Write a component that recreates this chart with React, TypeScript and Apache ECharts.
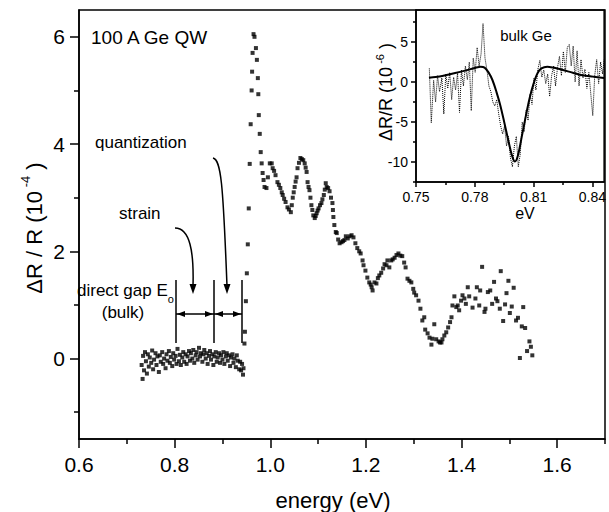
import React, { useEffect, useRef } from "react";
import * as echarts from "echarts";

const FONT = "'Liberation Sans', Arial, sans-serif";

// Main chart tick values
const mainXMajor = [0.6, 0.8, 1.0, 1.2, 1.4, 1.6];
const mainXMinor = [0.7, 0.9, 1.1, 1.3, 1.5, 1.7];
const mainYMajor = [0, 2, 4, 6];
const mainYMinor = [-1, 1, 3, 5];
// Inset tick values
const insetXMajor = [0.75, 0.78, 0.81, 0.84];
const insetXMinor = [0.765, 0.795, 0.825];
const insetYMajor = [-10, -5, 0, 5];
const insetYMinor = [-12.5, -7.5, -2.5, 2.5, 7.5];

// Main QW spectrum: flat region below gap
const flatRegion: [number, number][] = [
  [0.731, -0.12], [0.733, -0.38], [0.734, 0.05], [0.736, -0.22], [0.738, 0.12], [0.740, -0.05],
  [0.742, -0.28], [0.744, 0.08], [0.746, -0.15], [0.748, 0.02], [0.751, -0.08], [0.753, 0.15],
  [0.755, -0.2], [0.757, -0.02], [0.760, 0.1], [0.762, -0.12], [0.764, 0.04], [0.767, -0.25],
  [0.769, 0.06], [0.771, -0.06], [0.774, 0.12], [0.776, -0.1], [0.778, 0.0], [0.781, -0.18],
  [0.783, 0.08], [0.785, -0.04], [0.788, 0.14], [0.790, -0.08], [0.792, 0.03], [0.795, -0.14],
  [0.797, 0.1], [0.799, -0.02], [0.802, 0.05], [0.804, -0.1], [0.806, 0.18], [0.809, -0.05],
  [0.811, 0.07], [0.813, -0.12], [0.816, 0.02], [0.818, 0.12], [0.820, -0.06], [0.823, 0.08],
  [0.825, -0.1], [0.827, 0.04], [0.830, 0.14], [0.832, -0.04], [0.834, 0.1], [0.837, 0.0],
  [0.839, 0.16], [0.841, -0.08], [0.844, 0.06], [0.846, 0.12], [0.848, -0.02], [0.851, 0.2],
  [0.853, 0.04], [0.855, 0.1], [0.858, -0.06], [0.860, 0.08], [0.862, 0.16], [0.865, 0.0],
  [0.867, 0.1], [0.869, -0.1], [0.872, 0.05], [0.874, 0.14], [0.876, -0.02], [0.879, 0.08],
  [0.881, -0.12], [0.883, 0.04], [0.886, 0.12], [0.888, -0.06], [0.890, 0.02], [0.893, 0.1],
  [0.895, -0.08], [0.897, 0.06], [0.900, -0.02], [0.902, 0.12], [0.904, -0.1], [0.907, 0.04],
  [0.909, 0.1], [0.911, -0.04], [0.914, 0.06], [0.916, -0.14], [0.918, 0.02], [0.921, 0.08],
  [0.923, -0.08], [0.925, 0.0], [0.928, -0.16], [0.930, 0.06], [0.932, -0.04], [0.935, -0.2],
  [0.937, -0.06], [0.939, -0.22], [0.941, -0.1], [0.943, -0.3], [0.944, -0.18],
];

// Main QW spectrum: above gap
const aboveGap: [number, number][] = [
  [0.946, 0.28], [0.947, 0.5], [0.949, 1.07], [0.951, 1.59], [0.953, 2.13], [0.955, 2.8],
  [0.957, 3.63], [0.959, 4.37], [0.961, 5.0], [0.962, 5.35], [0.963, 5.7], [0.965, 6.05],
  [0.967, 6.0], [0.970, 5.79], [0.972, 5.57], [0.974, 5.23], [0.975, 4.93], [0.976, 4.54],
  [0.978, 4.19], [0.980, 3.85], [0.982, 3.64], [0.984, 3.46], [0.986, 3.33], [0.988, 3.2],
  [0.992, 3.18], [0.995, 3.38], [0.999, 3.64], [1.003, 3.64], [1.005, 3.55], [1.008, 3.5],
  [1.011, 3.42], [1.015, 3.29], [1.018, 3.24], [1.021, 3.18], [1.024, 3.1], [1.026, 3.05],
  [1.029, 2.98], [1.032, 2.92], [1.036, 2.82], [1.039, 2.78], [1.043, 2.73], [1.045, 2.86],
  [1.047, 3.0], [1.049, 3.1], [1.051, 3.2], [1.053, 3.3], [1.055, 3.38], [1.057, 3.55],
  [1.060, 3.65], [1.063, 3.74], [1.066, 3.72], [1.069, 3.7], [1.072, 3.64], [1.074, 3.56],
  [1.076, 3.48], [1.078, 3.29], [1.080, 3.2], [1.082, 3.14], [1.084, 3.0], [1.086, 2.86],
  [1.088, 2.77], [1.090, 2.67], [1.093, 2.62], [1.095, 2.66], [1.097, 2.71], [1.099, 2.76],
  [1.101, 2.8], [1.104, 2.86], [1.107, 2.9], [1.109, 2.97], [1.112, 3.05], [1.114, 3.15],
  [1.116, 3.27], [1.118, 3.2], [1.121, 3.18], [1.124, 3.12], [1.127, 3.0], [1.130, 2.9],
  [1.131, 2.77], [1.132, 2.64], [1.134, 2.49], [1.137, 2.36], [1.139, 2.34], [1.142, 2.22],
  [1.145, 2.15], [1.149, 2.17], [1.152, 2.19], [1.155, 2.21], [1.158, 2.28], [1.162, 2.24],
  [1.166, 2.28], [1.170, 2.3], [1.174, 2.26], [1.178, 2.15], [1.182, 2.06], [1.186, 2.0],
  [1.189, 1.96], [1.193, 1.83], [1.195, 1.74], [1.199, 1.64], [1.203, 1.51], [1.207, 1.42],
  [1.210, 1.38], [1.212, 1.33], [1.214, 1.27], [1.218, 1.42], [1.222, 1.4], [1.225, 1.5],
  [1.228, 1.55], [1.232, 1.6], [1.236, 1.68], [1.239, 1.76], [1.243, 1.74], [1.245, 1.83],
  [1.249, 1.7], [1.253, 1.83], [1.256, 1.85], [1.260, 1.88], [1.264, 1.93], [1.268, 1.96],
  [1.272, 1.92], [1.276, 1.91], [1.280, 1.79], [1.283, 1.7], [1.287, 1.49], [1.291, 1.45],
  [1.295, 1.42], [1.299, 1.3], [1.301, 1.23], [1.305, 1.18], [1.310, 1.08], [1.314, 0.93],
  [1.318, 0.71], [1.322, 0.77], [1.324, 0.54], [1.329, 0.47], [1.333, 0.39], [1.337, 0.26],
  [1.339, 0.37], [1.343, 0.64], [1.347, 0.36], [1.352, 0.32], [1.355, 0.3], [1.358, 0.3],
  [1.360, 0.36], [1.364, 0.43], [1.368, 0.49], [1.372, 0.58], [1.376, 0.68], [1.379, 0.77],
  [1.381, 0.99],
];

// Main QW spectrum: noisy high-energy tail
const tailRegion: [number, number][] = [
  [1.385, 1.16], [1.389, 0.96], [1.392, 0.99], [1.395, 0.9], [1.399, 1.08], [1.402, 1.18],
  [1.406, 1.12], [1.409, 1.02], [1.413, 1.33], [1.416, 1.16], [1.423, 0.95], [1.429, 1.12],
  [1.432, 1.33], [1.437, 0.99], [1.439, 1.27], [1.443, 1.71], [1.448, 0.87], [1.45, 0.93],
  [1.455, 1.24], [1.46, 1.27], [1.464, 1.02], [1.468, 1.43], [1.472, 1.12], [1.475, 1.07],
  [1.48, 0.93], [1.482, 1.63], [1.487, 0.7], [1.491, 1.01], [1.494, 1.22], [1.498, 1.45],
  [1.501, 0.85], [1.505, 0.97], [1.509, 1.32], [1.514, 0.71], [1.518, 0.76], [1.522, 0.01],
  [1.526, 0.6], [1.529, 0.96], [1.533, 0.57], [1.537, 0.14], [1.542, 0.32], [1.545, 0.22],
  [1.548, 0.06],
];

// Inset: bulk Ge fit (solid)
const insetFit: [number, number][] = [
  [0.7566, 0.54], [0.760, 0.62], [0.765, 0.85], [0.770, 1.12], [0.775, 1.42], [0.780, 1.75],
  [0.783, 1.92], [0.785, 1.8], [0.787, 1.2], [0.789, 0.25], [0.791, -1.2], [0.793, -2.9],
  [0.795, -5.0], [0.797, -7.2], [0.799, -9.2], [0.8005, -9.95], [0.802, -9.2], [0.804, -6.8],
  [0.806, -4.3], [0.808, -2.0], [0.810, -0.2], [0.812, 1.1], [0.814, 1.7], [0.817, 1.92],
  [0.820, 1.8], [0.825, 1.5], [0.830, 1.15], [0.835, 0.85], [0.840, 0.68], [0.846, 0.5],
];

// Inset: bulk Ge measured (dotted)
const insetData: [number, number][] = [
  [0.7568, 1.7], [0.7578, -5.1], [0.759, 0.2], [0.76, -2.5], [0.761, 0.8], [0.762, -1.2],
  [0.7632, 0.5], [0.7642, -4.0], [0.7652, 1.0], [0.7662, -0.8], [0.7672, 1.2], [0.7682, -2.2],
  [0.7692, 0.6], [0.7702, -1.0], [0.7712, 1.1], [0.7722, -3.8], [0.7732, 1.5], [0.7742, -0.5],
  [0.7752, 2.0], [0.7762, 0.3], [0.7772, 2.5], [0.7782, -3.6], [0.7792, 3.0], [0.7802, 1.2],
  [0.7812, 4.3], [0.7822, 2.0], [0.7832, 3.5], [0.7842, 7.3], [0.7852, 3.0], [0.7862, 1.5],
  [0.7872, -0.5], [0.7882, -1.2], [0.7892, -2.5], [0.7902, -3.0], [0.7912, -2.2], [0.7922, -4.0],
  [0.7932, -5.5], [0.7942, -6.5], [0.7952, -5.5], [0.7962, -8.0], [0.7972, -6.8], [0.7982, -9.5],
  [0.7992, -10.6], [0.8002, -8.0], [0.8012, -6.8], [0.8022, -10.6], [0.8032, -9.0], [0.8042, -5.0],
  [0.8052, -6.2], [0.8062, -3.5], [0.8072, -4.8], [0.8082, -1.5], [0.8092, -2.8], [0.8102, 0.5],
  [0.8112, -1.0], [0.8122, 1.6], [0.8132, 2.7], [0.8142, 0.6], [0.8152, 1.5], [0.8162, -0.2],
  [0.8172, 1.0], [0.8182, -1.8], [0.8192, 0.8], [0.8202, 2.0], [0.8212, -0.5], [0.8222, 1.8],
  [0.8232, 3.2], [0.8242, 0.8], [0.8252, 3.8], [0.8262, 1.2], [0.8272, 4.3], [0.8282, 4.7],
  [0.8292, 2.0], [0.8302, 4.5], [0.8312, 0.0], [0.8322, 3.9], [0.8332, -0.5], [0.8342, 2.8],
  [0.8352, 0.5], [0.8362, 1.6], [0.8372, -0.8], [0.8382, 1.2], [0.8392, -1.5], [0.8402, -4.2],
  [0.8412, 0.8], [0.8422, 2.8], [0.8432, -0.2], [0.8442, 2.5], [0.8452, 1.0], [0.846, 2.8],
];

const BLACK = "#000";

function majorAxis(
  kind: "x" | "y",
  grid: number,
  min: number,
  max: number,
  ticks: number[],
  fontSize: number,
  margin: number,
  tickLen: number,
  digits: number
) {
  return {
    type: "value",
    gridIndex: grid,
    position: kind === "x" ? "bottom" : "left",
    min,
    max,
    axisLine: { show: true, onZero: false, lineStyle: { color: BLACK, width: 1.5 } },
    axisTick: {
      show: true,
      inside: false,
      length: tickLen,
      customValues: ticks,
      lineStyle: { color: BLACK, width: 1.5 },
    },
    axisLabel: {
      show: true,
      customValues: ticks,
      color: BLACK,
      fontSize,
      fontFamily: FONT,
      margin,
      formatter: (v: number) => v.toFixed(digits),
    },
    splitLine: { show: false },
  };
}

function minorAxis(kind: "x" | "y", grid: number, min: number, max: number, ticks: number[], tickLen: number) {
  return {
    type: "value",
    gridIndex: grid,
    position: kind === "x" ? "bottom" : "left",
    min,
    max,
    axisLine: { show: false, onZero: false },
    axisTick: {
      show: true,
      inside: false,
      length: tickLen,
      customValues: ticks,
      lineStyle: { color: BLACK, width: 1.5 },
    },
    axisLabel: { show: false },
    splitLine: { show: false },
  };
}

export default function App() {
  const ref = useRef<HTMLDivElement>(null);

  useEffect(() => {
    if (!ref.current) return;
    const chart = echarts.init(ref.current, undefined, { renderer: "svg" });

    const lineStyle = { stroke: BLACK, lineWidth: 1.5 };
    const arrowHead = (tipX: number, tipY: number, dir: "down" | "left" | "right") => {
      let pts: number[][];
      if (dir === "down") pts = [[tipX - 3.5, tipY - 10], [tipX + 3.5, tipY - 10], [tipX, tipY]];
      else if (dir === "left") pts = [[tipX + 8, tipY - 3], [tipX + 8, tipY + 3], [tipX, tipY]];
      else pts = [[tipX - 8, tipY - 3], [tipX - 8, tipY + 3], [tipX, tipY]];
      return { type: "polygon", shape: { points: pts }, style: { fill: BLACK } };
    };

    const option = {
      animation: false,
      backgroundColor: "#fff",
      grid: [
        { left: 79, top: 10, width: 526, height: 429, show: true, borderColor: BLACK, borderWidth: 1.5 },
        { left: 416, top: 10, width: 189, height: 172, show: true, borderColor: BLACK, borderWidth: 1.5 },
      ],
      xAxis: [
        majorAxis("x", 0, 0.6, 1.7, mainXMajor, 21, 15, 9, 1),
        minorAxis("x", 0, 0.6, 1.7, mainXMinor, 5),
        majorAxis("x", 1, 0.75, 0.846, insetXMajor, 14, 8, 5, 2),
        minorAxis("x", 1, 0.75, 0.846, insetXMinor, 3),
      ],
      yAxis: [
        majorAxis("y", 0, -1.5, 6.5, mainYMajor, 21, 14, 9, 0),
        minorAxis("y", 0, -1.5, 6.5, mainYMinor, 5),
        majorAxis("y", 1, -12.5, 9, insetYMajor, 14, 8, 5, 0),
        minorAxis("y", 1, -12.5, 9, insetYMinor, 3),
      ],
      series: [
        {
          type: "scatter",
          xAxisIndex: 0,
          yAxisIndex: 0,
          symbol: "rect",
          symbolSize: 4,
          itemStyle: { color: BLACK },
          data: [...flatRegion, ...aboveGap, ...tailRegion],
        },
        {
          type: "line",
          xAxisIndex: 2,
          yAxisIndex: 2,
          showSymbol: false,
          smooth: 0.3,
          lineStyle: { color: BLACK, width: 2 },
          data: insetFit,
        },
        {
          type: "line",
          xAxisIndex: 2,
          yAxisIndex: 2,
          showSymbol: false,
          lineStyle: { color: BLACK, width: 1, type: "dotted" },
          data: insetData,
        },
      ],
      graphic: [
        {
          type: "text",
          x: 91,
          y: 37,
          style: { text: "100 A Ge QW", fontSize: 19, fontFamily: FONT, fill: BLACK, verticalAlign: "middle" },
        },
        {
          type: "text",
          x: 95,
          y: 142,
          style: { text: "quantization", fontSize: 17, fontFamily: FONT, fill: BLACK, verticalAlign: "middle" },
        },
        {
          type: "text",
          x: 119,
          y: 213,
          style: { text: "strain", fontSize: 17, fontFamily: FONT, fill: BLACK, verticalAlign: "middle" },
        },
        {
          type: "text",
          x: 77,
          y: 290,
          style: {
            text: "{a|direct gap E}{s|o}",
            verticalAlign: "middle",
            rich: {
              a: { fontSize: 17, fontFamily: FONT, fill: BLACK, color: BLACK, lineHeight: 28 },
              s: { fontSize: 11, fontFamily: FONT, fill: BLACK, color: BLACK, lineHeight: 11, verticalAlign: "bottom" },
            },
          },
        },
        {
          type: "text",
          x: 123,
          y: 312,
          style: { text: "(bulk)", fontSize: 17, fontFamily: FONT, fill: BLACK, align: "center", verticalAlign: "middle" },
        },
        {
          type: "text",
          x: 333,
          y: 500,
          style: { text: "energy (eV)", fontSize: 22, fontFamily: FONT, fill: BLACK, align: "center", verticalAlign: "middle" },
        },
        {
          type: "text",
          x: 34,
          y: 228,
          rotation: Math.PI / 2,
          style: {
            text: "{a|\u0394R / R (10}{s| -4}{a| )}",
            align: "center",
            verticalAlign: "middle",
            rich: {
              a: { fontSize: 22, fontFamily: FONT, fill: BLACK, color: BLACK, lineHeight: 30 },
              s: { fontSize: 13, fontFamily: FONT, fill: BLACK, color: BLACK, lineHeight: 13, verticalAlign: "top" },
            },
          },
        },
        {
          type: "text",
          x: 386,
          y: 92,
          rotation: Math.PI / 2,
          style: {
            text: "{a|\u0394R/R (10}{s| -6}{a| )}",
            align: "center",
            verticalAlign: "middle",
            rich: {
              a: { fontSize: 18, fontFamily: FONT, fill: BLACK, color: BLACK, lineHeight: 24 },
              s: { fontSize: 11, fontFamily: FONT, fill: BLACK, color: BLACK, lineHeight: 11, verticalAlign: "top" },
            },
          },
        },
        {
          type: "text",
          x: 526,
          y: 35,
          style: { text: "bulk Ge", fontSize: 15, fontFamily: FONT, fill: BLACK, align: "center", verticalAlign: "middle" },
        },
        {
          type: "text",
          x: 525,
          y: 213,
          style: { text: "eV", fontSize: 16, fontFamily: FONT, fill: BLACK, align: "center", verticalAlign: "middle" },
        },
        // vertical markers
        { type: "line", shape: { x1: 176, y1: 280, x2: 176, y2: 343 }, style: lineStyle },
        { type: "line", shape: { x1: 214, y1: 280, x2: 214, y2: 343 }, style: lineStyle },
        { type: "line", shape: { x1: 242, y1: 280, x2: 242, y2: 343 }, style: lineStyle },
        // double arrows
        { type: "line", shape: { x1: 176, y1: 314, x2: 214, y2: 314 }, style: lineStyle },
        { type: "line", shape: { x1: 214, y1: 314, x2: 242, y2: 314 }, style: lineStyle },
        arrowHead(177, 314, "left"),
        arrowHead(213, 314, "right"),
        arrowHead(215, 314, "left"),
        arrowHead(241, 314, "right"),
        // curved arrows
        {
          type: "bezierCurve",
          shape: { x1: 175, y1: 228, cpx1: 190, cpy1: 228, cpx2: 194, cpy2: 252, x2: 193, y2: 286 },
          style: { stroke: BLACK, lineWidth: 1.5, fill: "none" },
        },
        arrowHead(193, 294, "down"),
        {
          type: "bezierCurve",
          shape: { x1: 213, y1: 158, cpx1: 221, cpy1: 160, cpx2: 223, cpy2: 182, x2: 227, y2: 286 },
          style: { stroke: BLACK, lineWidth: 1.5, fill: "none" },
        },
        arrowHead(227, 294, "down"),
      ],
    };

    chart.setOption(option as any);
    return () => chart.dispose();
  }, []);

  return (
    <div
      ref={ref}
      style={{ position: "fixed", left: 0, top: 0, width: 609, height: 512, background: "#fff" }}
    />
  );
}
